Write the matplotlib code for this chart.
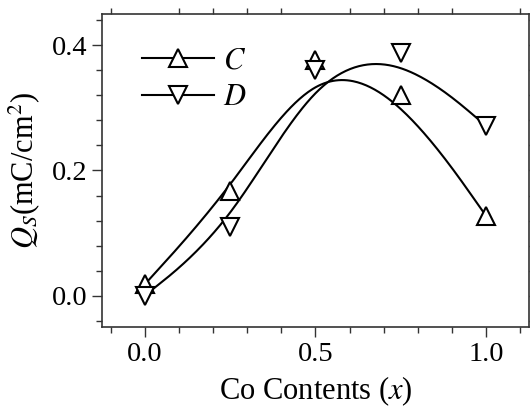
import numpy as np
import matplotlib
matplotlib.use("Agg")
import matplotlib.pyplot as plt
from matplotlib.ticker import MultipleLocator, FormatStrFormatter
from matplotlib.lines import Line2D

plt.rcParams['font.family'] = ['Liberation Serif', 'DejaVu Serif']
plt.rcParams['mathtext.fontset'] = 'stix'

x = [0.0, 0.25, 0.5, 0.75, 1.0]
qs_C = [0.018, 0.168, 0.377, 0.321, 0.127]
qs_D = [0.0, 0.109, 0.361, 0.387, 0.271]
labels = ['C', 'D']


def bspline(px, py, n=60):
    """Uniform cubic B-spline with end control points tripled."""
    P = np.column_stack([px, py]).astype(float)
    P = np.vstack([P[:1], P[:1], P, P[-1:], P[-1:]])
    t = np.linspace(0, 1, n)
    b0 = (1 - t) ** 3 / 6
    b1 = (3 * t**3 - 6 * t**2 + 4) / 6
    b2 = (-3 * t**3 + 3 * t**2 + 3 * t + 1) / 6
    b3 = t**3 / 6
    pts = []
    for i in range(len(P) - 3):
        seg = (np.outer(b0, P[i]) + np.outer(b1, P[i + 1]) +
               np.outer(b2, P[i + 2]) + np.outer(b3, P[i + 3]))
        pts.append(seg)
    pts = np.vstack(pts)
    return pts[:, 0], pts[:, 1]


fig = plt.figure(figsize=(5.30, 4.09), dpi=100)
ax = fig.add_axes([0.1925, 0.2005, 0.8055, 0.7653])

mk = dict(ms=13, mfc='white', mec='black', mew=1.5)
for ys, m in [(qs_C, '^'), (qs_D, 'v')]:
    cx, cy = bspline(x, ys)
    ax.plot(cx, cy, color='black', lw=1.5)
    ax.plot(x, ys, linestyle='none', marker=m, **mk)

h = [Line2D([], [], color='black', lw=1.5, marker='^', **mk),
     Line2D([], [], color='black', lw=1.5, marker='v', **mk)]
ax.legend(h, [f'${l}$' for l in labels], loc='upper left', bbox_to_anchor=(0.094, 0.895),
          frameon=False, fontsize=22, handlelength=2.35, handletextpad=0.3,
          labelspacing=0.25, borderaxespad=0, borderpad=0)

ax.set_xlim(-0.125, 1.125)
ax.set_ylim(-0.05, 0.45)
ax.xaxis.set_major_locator(MultipleLocator(0.5))
ax.xaxis.set_minor_locator(MultipleLocator(0.1))
ax.yaxis.set_major_locator(MultipleLocator(0.2))
ax.yaxis.set_minor_locator(MultipleLocator(0.04))
ax.xaxis.set_major_formatter(FormatStrFormatter('%.1f'))
ax.yaxis.set_major_formatter(FormatStrFormatter('%.1f'))
ax.tick_params(which='both', direction='out', top=True, right=True, labelsize=20.5, width=1, color='#333333')
ax.tick_params(which='major', length=7)
ax.tick_params(which='minor', length=4)
ax.tick_params(axis='x', which='major', top=False)
for s in ax.spines.values():
    s.set_linewidth(1.2)
    s.set_color('#333333')

ax.set_xlabel('Co Contents ($x$)', fontsize=22, labelpad=6)
ax.set_ylabel('$Q_S$(mC/cm$^2$)', fontsize=22, labelpad=7)

fig.savefig('out.png', dpi=100)
